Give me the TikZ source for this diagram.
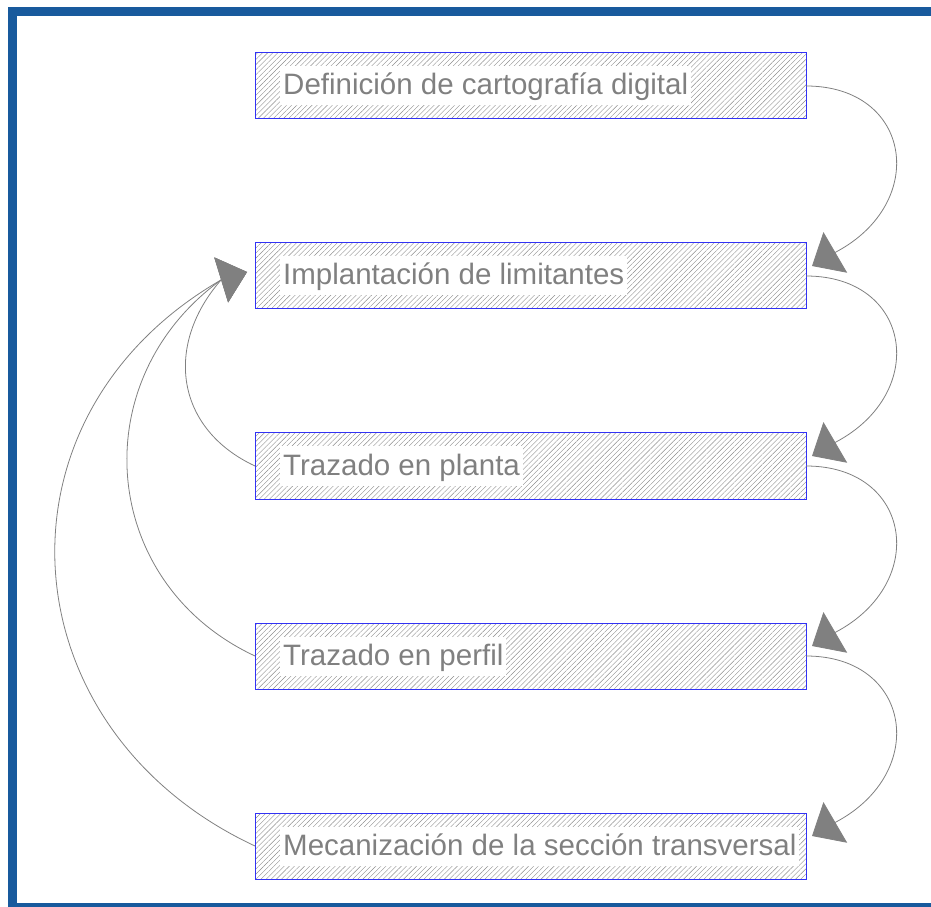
\documentclass[tikz,border=0pt]{standalone}
\usepackage{fontspec}
\setmainfont{Liberation Sans}
\usetikzlibrary{positioning,calc,arrows.meta,patterns.meta}
\definecolor{frameBlue}{RGB}{24,90,157}
\definecolor{boxBlue}{RGB}{50,50,245}
\definecolor{lineGray}{RGB}{128,128,128}
\definecolor{hatchGray}{RGB}{140,140,140}
\begin{document}
\begin{tikzpicture}[x=1pt,y=1pt,>={Triangle[length=27pt,width=47pt]},
        stepbox/.style={draw=boxBlue,line width=1pt,
            pattern={Lines[angle=45,distance=3.6pt,line width=0.4pt]},pattern color=hatchGray,
            minimum width=551pt,minimum height=66pt,inner sep=0pt,outer sep=0pt},
        steptext/.style={fill=white,text=lineGray,font=\fontsize{29.5}{35}\selectfont,
            inner xsep=3pt,inner ysep=4.5pt,text height=24pt,text depth=6pt},
        flow/.style={->,draw=lineGray,line width=0.8pt}]
        \useasboundingbox (0,0) rectangle (931,906);
        \clip (0,0) rectangle (931,906);
        \draw[frameBlue,line width=9pt] (12.5,894.5) rectangle (935.5,-1.5);
        \node[stepbox] (b1) at (530.5,820) {};
        \node[stepbox,below=124pt of b1] (b2) {};
        \node[stepbox,below=124pt of b2] (b3) {};
        \node[stepbox,below=124pt of b3] (b4) {};
        \node[stepbox,below=124pt of b4] (b5) {};
        \node[steptext,right=25pt of b1.west] (l1) {Definición de cartografía digital};
        \node[steptext,right=25pt of b2.west] (l2) {Implantación de limitantes};
        \node[steptext,right=25pt of b3.west] (l3) {Trazado en planta};
        \node[steptext,right=25pt of b4.west] (l4) {Trazado en perfil};
        \node[steptext,right=25pt of b5.west] (l5) {Mecanización de la sección transversal};
        \foreach \i/\j in {1/2,2/3,3/4,4/5}
        {
        \coordinate (rbase\j) at ($(b\j.east)+(30,24)$);
        \coordinate (rtip\j) at ($(b\j.east)+(6,10)$);
        \draw[flow] (b\i.east) to[out=0,in=28,looseness=1.6] (rbase\j) -- (rtip\j);
        }
        \coordinate (lbase) at ($(b2.west)+(-34,-4)$);
        \coordinate (ltip) at ($(b2.west)+(-8,4)$);
        \draw[flow] (b3.west) to[out=155,in=229,looseness=1.18] (lbase) -- (ltip);
        \draw[flow] (b4.west) to[out=155,in=216,looseness=1.16] (lbase) -- (ltip);
        \draw[flow] (b5.west) to[out=155,in=210,looseness=1.24] (lbase) -- (ltip);
    \end{tikzpicture}
\end{document}
